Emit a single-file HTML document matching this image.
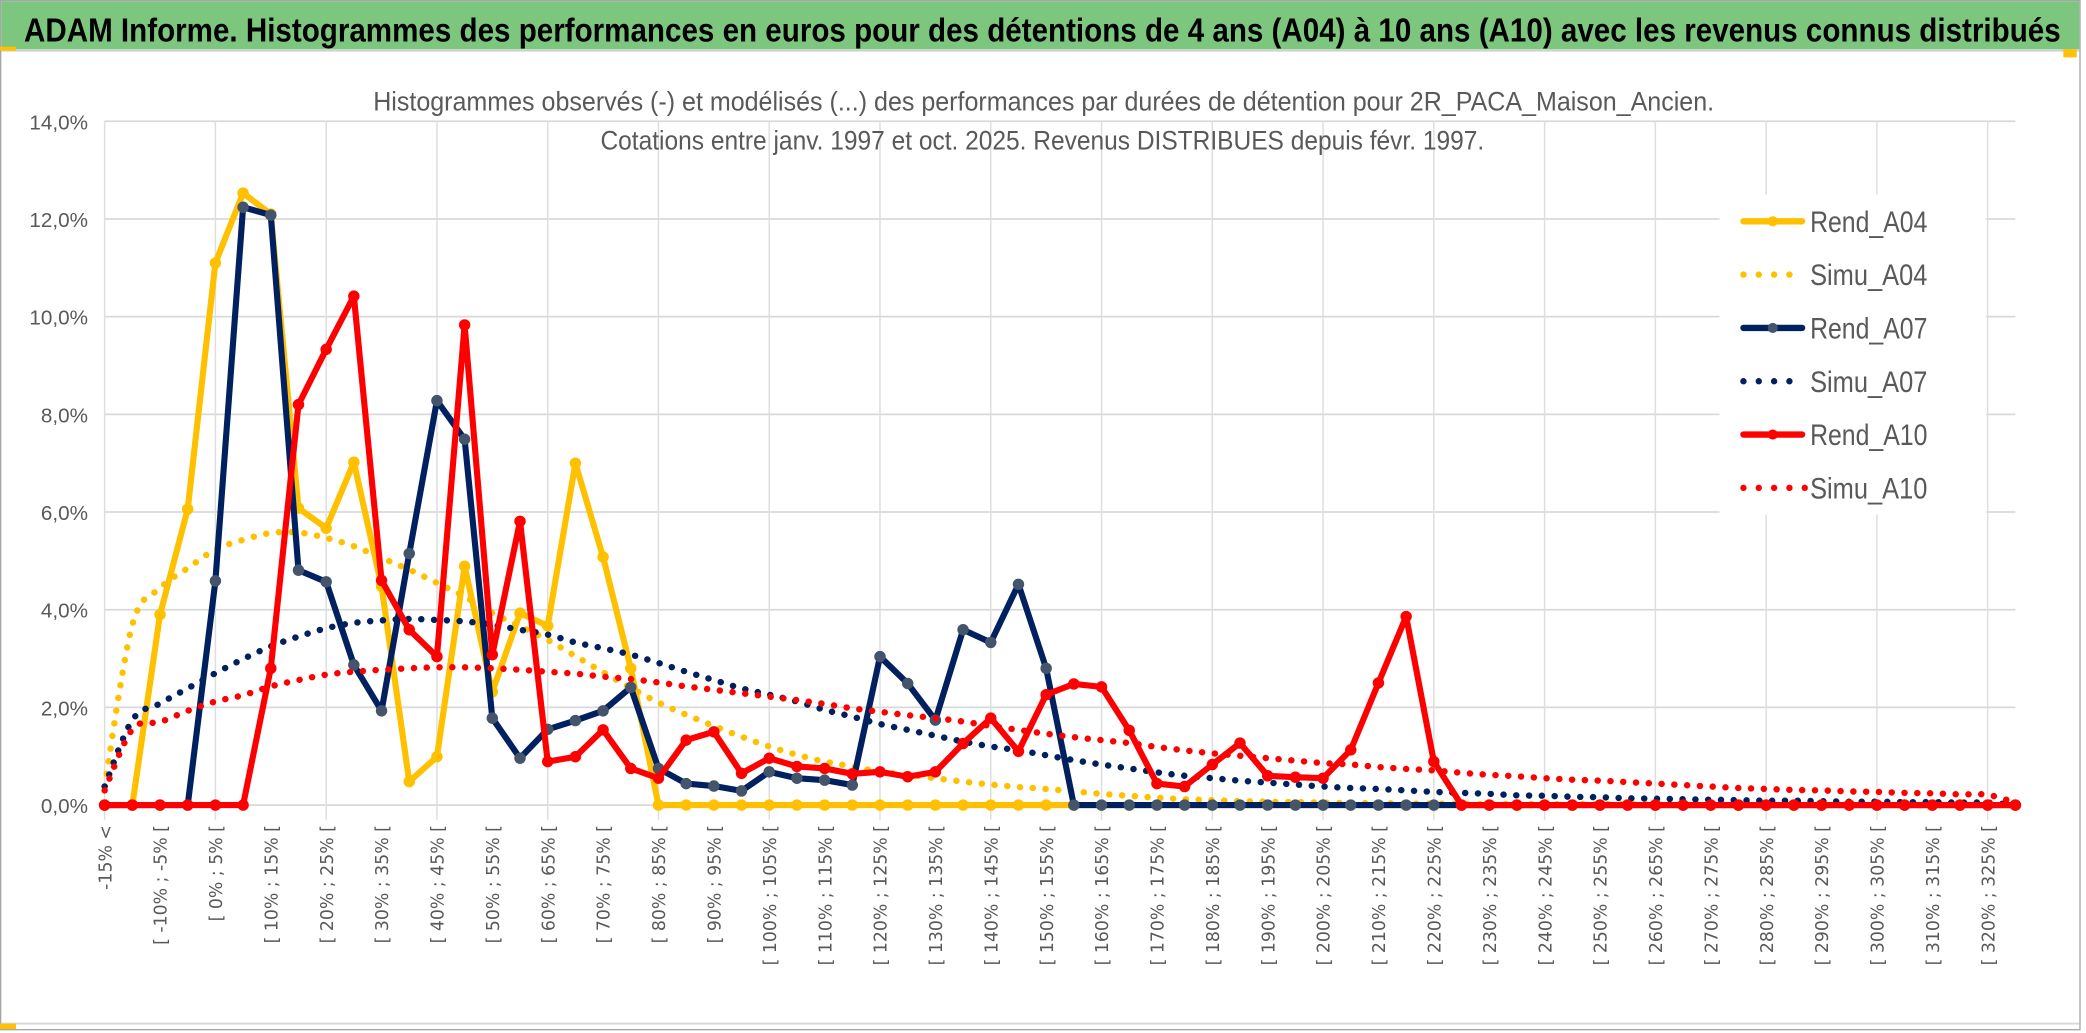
<!DOCTYPE html>
<html lang="fr">
<head>
<meta charset="utf-8">
<title>ADAM Informe - Histogrammes</title>
<style>
  html,body{margin:0;padding:0;background:#fff;}
  body{width:2086px;height:1033px;overflow:hidden;}
  svg{display:block;}
</style>
</head>
<body>
<svg id="chart" xmlns="http://www.w3.org/2000/svg" width="2086" height="1033" viewBox="0 0 1565 775" preserveAspectRatio="none">
  <rect x="0" y="0" width="1565" height="775" fill="#ffffff"/>
  <rect x="0.5" y="0.5" width="1560" height="772" fill="none" stroke="#A6A6A6" stroke-width="1"/>
  <rect x="1" y="1" width="1559" height="36" fill="#7DC67D"/>
  <line x1="1" y1="38" x2="1560" y2="38" stroke="#D0D0D0" stroke-width="1.5"/>
  <rect x="0" y="35" width="12" height="3" fill="#FFC000"/>
  <rect x="1548" y="37" width="10" height="6" fill="#FFC000"/>
  <line x1="1" y1="768" x2="1560" y2="768" stroke="#D9D9D9" stroke-width="1.5"/>
  <rect x="0" y="768" width="12" height="4" fill="#FFC000"/>
  <text x="18" y="31" font-family="'Liberation Sans', sans-serif" font-weight="bold" font-size="25" fill="#000" textLength="1528" lengthAdjust="spacingAndGlyphs">ADAM Informe. Histogrammes des performances en euros pour des détentions de 4 ans (A04) à 10 ans (A10) avec les revenus connus distribués</text>
  <g id="grid"></g>
  <text x="783" y="83" text-anchor="middle" font-family="'Liberation Sans', sans-serif" font-size="20" fill="#595959" textLength="1006" lengthAdjust="spacingAndGlyphs">Histogrammes observés (-) et modélisés (...) des performances par durées de détention pour 2R_PACA_Maison_Ancien.</text>
  <text x="782" y="112" text-anchor="middle" font-family="'Liberation Sans', sans-serif" font-size="20" fill="#595959" textLength="663" lengthAdjust="spacingAndGlyphs">Cotations entre janv. 1997 et oct. 2025. Revenus DISTRIBUES depuis févr. 1997.</text>
  <g id="yaxis"></g>
  <g id="xaxis"></g>
  <g id="series"></g>
  <g id="legend"></g>
</svg>
<script>
// ---------- data ----------
const categories = ["-15% <"];
for (let k = 1; k < 70; k++) { const a = -15 + 5 * (k - 1); categories.push("[ " + a + "% ; " + (a + 5) + "% ["); }
const yTicks = [0, 2, 4, 6, 8, 10, 12, 14];
const yTickLabels = ["0,0%", "2,0%", "4,0%", "6,0%", "8,0%", "10,0%", "12,0%", "14,0%"];
const seriesNames = ["Rend_A04", "Simu_A04", "Rend_A07", "Simu_A07", "Rend_A10", "Simu_A10"];
const rendA04 = [0,0,3.9,6.06,11.1,12.53,12.1,6.08,5.67,7.02,4.48,0.48,0.99,4.89,2.32,3.93,3.67,7.0,5.08,2.8,
  0,0,0,0,0,0,0,0,0,0,0,0,0,0,0,0,0,0,0,0,0,0,0,0,0,0,0,0,0,0,0,0,0,0,0,0,0,0,0,0,0,0,0,0,0,0,0,0,0,0];
const simuA04 = [0.38,3.69,4.44,4.85,5.23,5.43,5.57,5.58,5.47,5.3,5.06,4.82,4.55,4.27,3.93,3.66,3.38,3.05,2.72,2.4,
  2.1,1.85,1.62,1.4,1.2,1.03,0.89,0.79,0.68,0.62,0.55,0.48,0.42,0.37,0.33,0.28,0.23,0.19,0.15,0.12,
  0.1,0.08,0.07,0.06,0.05,0.04,0.04,0.03,0.03,0.02,0.02,0.02,0.02,0.02,0.02,0.02,0.01,0.01,0.01,0.01,
  0.01,0.01,0.01,0.01,0.01,0.01,0.01,0.01,0.01,0];
const rendA07 = [0,0,0,0,4.59,12.24,12.08,4.81,4.57,2.87,1.93,5.15,8.28,7.49,1.78,0.96,1.55,1.73,1.93,2.41,
  0.75,0.44,0.39,0.29,0.68,0.55,0.51,0.41,3.04,2.49,1.74,3.59,3.33,4.52,2.8,
  0,0,0,0,0,0,0,0,0,0,0,0,0,0,0,0,0,0,0,0,0,0,0,0,0,0,0,0,0,0,0,0,0,0,0];
const simuA07 = [0.38,1.74,2.08,2.39,2.7,2.99,3.25,3.45,3.62,3.73,3.78,3.81,3.79,3.76,3.69,3.59,3.49,3.33,3.21,3.08,
  2.91,2.73,2.56,2.39,2.26,2.12,1.95,1.81,1.66,1.54,1.42,1.3,1.2,1.12,1.02,0.92,0.83,0.75,0.67,0.6,
  0.55,0.5,0.46,0.42,0.38,0.35,0.33,0.3,0.27,0.25,0.23,0.2,0.19,0.17,0.16,0.14,0.13,0.12,0.11,0.1,
  0.09,0.09,0.08,0.07,0.07,0.06,0.06,0.05,0.05,0];
const rendA10 = [0,0,0,0,0,0,2.8,8.2,9.33,10.42,4.6,3.59,3.04,9.83,3.08,5.81,0.89,0.99,1.54,0.75,
  0.55,1.33,1.5,0.65,0.96,0.79,0.75,0.64,0.68,0.58,0.68,1.26,1.78,1.1,2.26,2.48,2.42,1.53,0.44,0.38,
  0.83,1.27,0.6,0.57,0.55,1.13,2.5,3.86,0.89,0,0,0,0,0,0,0,0,0,0,0,0,0,0,0,0,0,0,0,0,0];
const simuA10 = [0.3,1.55,1.7,1.93,2.12,2.25,2.43,2.56,2.67,2.73,2.77,2.8,2.82,2.82,2.8,2.77,2.73,2.69,2.63,2.58,
  2.51,2.43,2.36,2.29,2.22,2.15,2.07,1.98,1.91,1.84,1.78,1.71,1.62,1.54,1.46,1.39,1.33,1.27,1.19,1.12,
  1.06,1.01,0.96,0.91,0.86,0.83,0.78,0.74,0.71,0.66,0.62,0.59,0.55,0.52,0.5,0.47,0.44,0.41,0.38,0.35,
  0.33,0.31,0.3,0.28,0.27,0.25,0.24,0.22,0.21,0.05];

// ---------- scales ----------
const X0 = 78.5, X1 = 1512, Y0 = 604, Y14 = 91;
function xScale(i) { return X0 + (X1 - X0) * i / (categories.length - 1); }
function yScale(v) { return Y0 - (Y0 - Y14) * v / 14; }
const NS = "http://www.w3.org/2000/svg";
function mk(tag, attrs, parent) {
  const el = document.createElementNS(NS, tag);
  for (const k in attrs) el.setAttribute(k, attrs[k]);
  parent.appendChild(el);
  return el;
}

// ---------- grid ----------
const grid = document.getElementById("grid");
yTicks.forEach(function (t) {
  const ln = mk("line", {x1: X0, x2: X1, y1: yScale(t), y2: yScale(t), stroke: "#D9D9D9", "stroke-width": 1.3}, grid);
  
  
});
for (let i = 0; i < categories.length; i += 4) {
  const ln = mk("line", {x1: xScale(i), x2: xScale(i), y1: Y14, y2: Y0 + 11, stroke: "#DEDEDE", "stroke-width": 1.1}, grid);
  
  
}

// ---------- y axis ----------
const yaxis = document.getElementById("yaxis");
yTicks.forEach(function (t, k) {
  const tx = mk("text", {x: 66, y: yScale(t) + 6, "text-anchor": "end", "font-family": "'Liberation Sans', sans-serif", "font-size": 15.5, fill: "#595959"}, yaxis);
  tx.textContent = yTickLabels[k];
  
  
});

// ---------- x axis ----------
const xaxis = document.getElementById("xaxis");
for (let i = 0; i < categories.length; i += 2) {
  const x = xScale(i);
  const tx = mk("text", {x: 0, y: 0, transform: "translate(" + (x + 5) + ",619) rotate(-90)", "text-anchor": "end", "font-family": "'DejaVu Sans', sans-serif", "font-size": 13, fill: "#595959"}, xaxis);
  tx.textContent = categories[i];
  
  
}

// ---------- series ----------
const layer = document.getElementById("series");
function smoothPath(vals) {
  const p = vals.map(function (v, i) { return [xScale(i), yScale(v)]; });
  let d = "M" + p[0][0] + "," + p[0][1];
  for (let i = 0; i < p.length - 1; i++) {
    const p0 = p[i - 1] || p[i], p1 = p[i], p2 = p[i + 1], p3 = p[i + 2] || p2;
    const t = 1 / 6;
    const c1 = [p1[0] + (p2[0] - p0[0]) * t, p1[1] + (p2[1] - p0[1]) * t];
    const c2 = [p2[0] - (p3[0] - p1[0]) * t, p2[1] - (p3[1] - p1[1]) * t];
    d += " C" + c1[0] + "," + c1[1] + " " + c2[0] + "," + c2[1] + " " + p2[0] + "," + p2[1];
  }
  return d;
}
function drawRend(vals, color, markerColor, name) {
  const g = mk("g", {}, layer);
  
  
  const pts = vals.map(function (v, i) { return xScale(i) + "," + yScale(v); }).join(" ");
  const pl = mk("polyline", {points: pts, fill: "none", stroke: color, "stroke-width": 4.6, "stroke-linejoin": "round"}, g);
  
  
  vals.forEach(function (v, i) {
    const c = mk("circle", {cx: xScale(i), cy: yScale(v), r: 3.8, fill: markerColor, stroke: markerColor}, g);
    
    
  });
}
function drawSimu(vals, color, name) {
  const p = mk("path", {d: smoothPath(vals), fill: "none", stroke: color, "stroke-width": 4.8, "stroke-linecap": "round", "stroke-dasharray": "0.1 9.5"}, layer);
  
  
}
drawRend(rendA04, "#FFC000", "#FFC000", "rend-a04");
drawSimu(simuA04, "#FFC000", "simu-a04");
drawRend(rendA07, "#002060", "#44546A", "rend-a07");
drawSimu(simuA07, "#002060", "simu-a07");
drawRend(rendA10, "#FF0000", "#FF0000", "rend-a10");
drawSimu(simuA10, "#FF0000", "simu-a10");

// ---------- legend ----------
const legend = document.getElementById("legend");
const lbg = mk("rect", {x: 1290, y: 146, width: 200, height: 240, fill: "#ffffff"}, legend);


const legendColors = ["#FFC000", "#FFC000", "#002060", "#002060", "#FF0000", "#FF0000"];
const legendMarkers = ["#FFC000", "#FFC000", "#44546A", "#44546A", "#FF0000", "#FF0000"];
const legendRows = [166, 206, 246, 286, 326, 366];
seriesNames.forEach(function (nm, k) {
  const y = legendRows[k];
  const g = mk("g", {}, legend);
  
  
  if (k % 2 === 0) {
    mk("line", {x1: 1308, x2: 1352, y1: y, y2: y, stroke: legendColors[k], "stroke-width": 4.8, "stroke-linecap": "round"}, g);
    mk("circle", {cx: 1330, cy: y, r: 3.8, fill: legendMarkers[k]}, g);
  } else {
    const n = (k === 5) ? 5 : 4;
    for (let j = 0; j < n; j++) mk("circle", {cx: 1308 + j * 11.5, cy: y, r: 2.4, fill: legendColors[k]}, g);
  }
  const tx = mk("text", {x: 1358, y: y + 8, "font-family": "'Liberation Sans', sans-serif", "font-size": 22, fill: "#595959", textLength: 88, lengthAdjust: "spacingAndGlyphs"}, g);
  tx.textContent = nm;
});
</script>
</body>
</html>
